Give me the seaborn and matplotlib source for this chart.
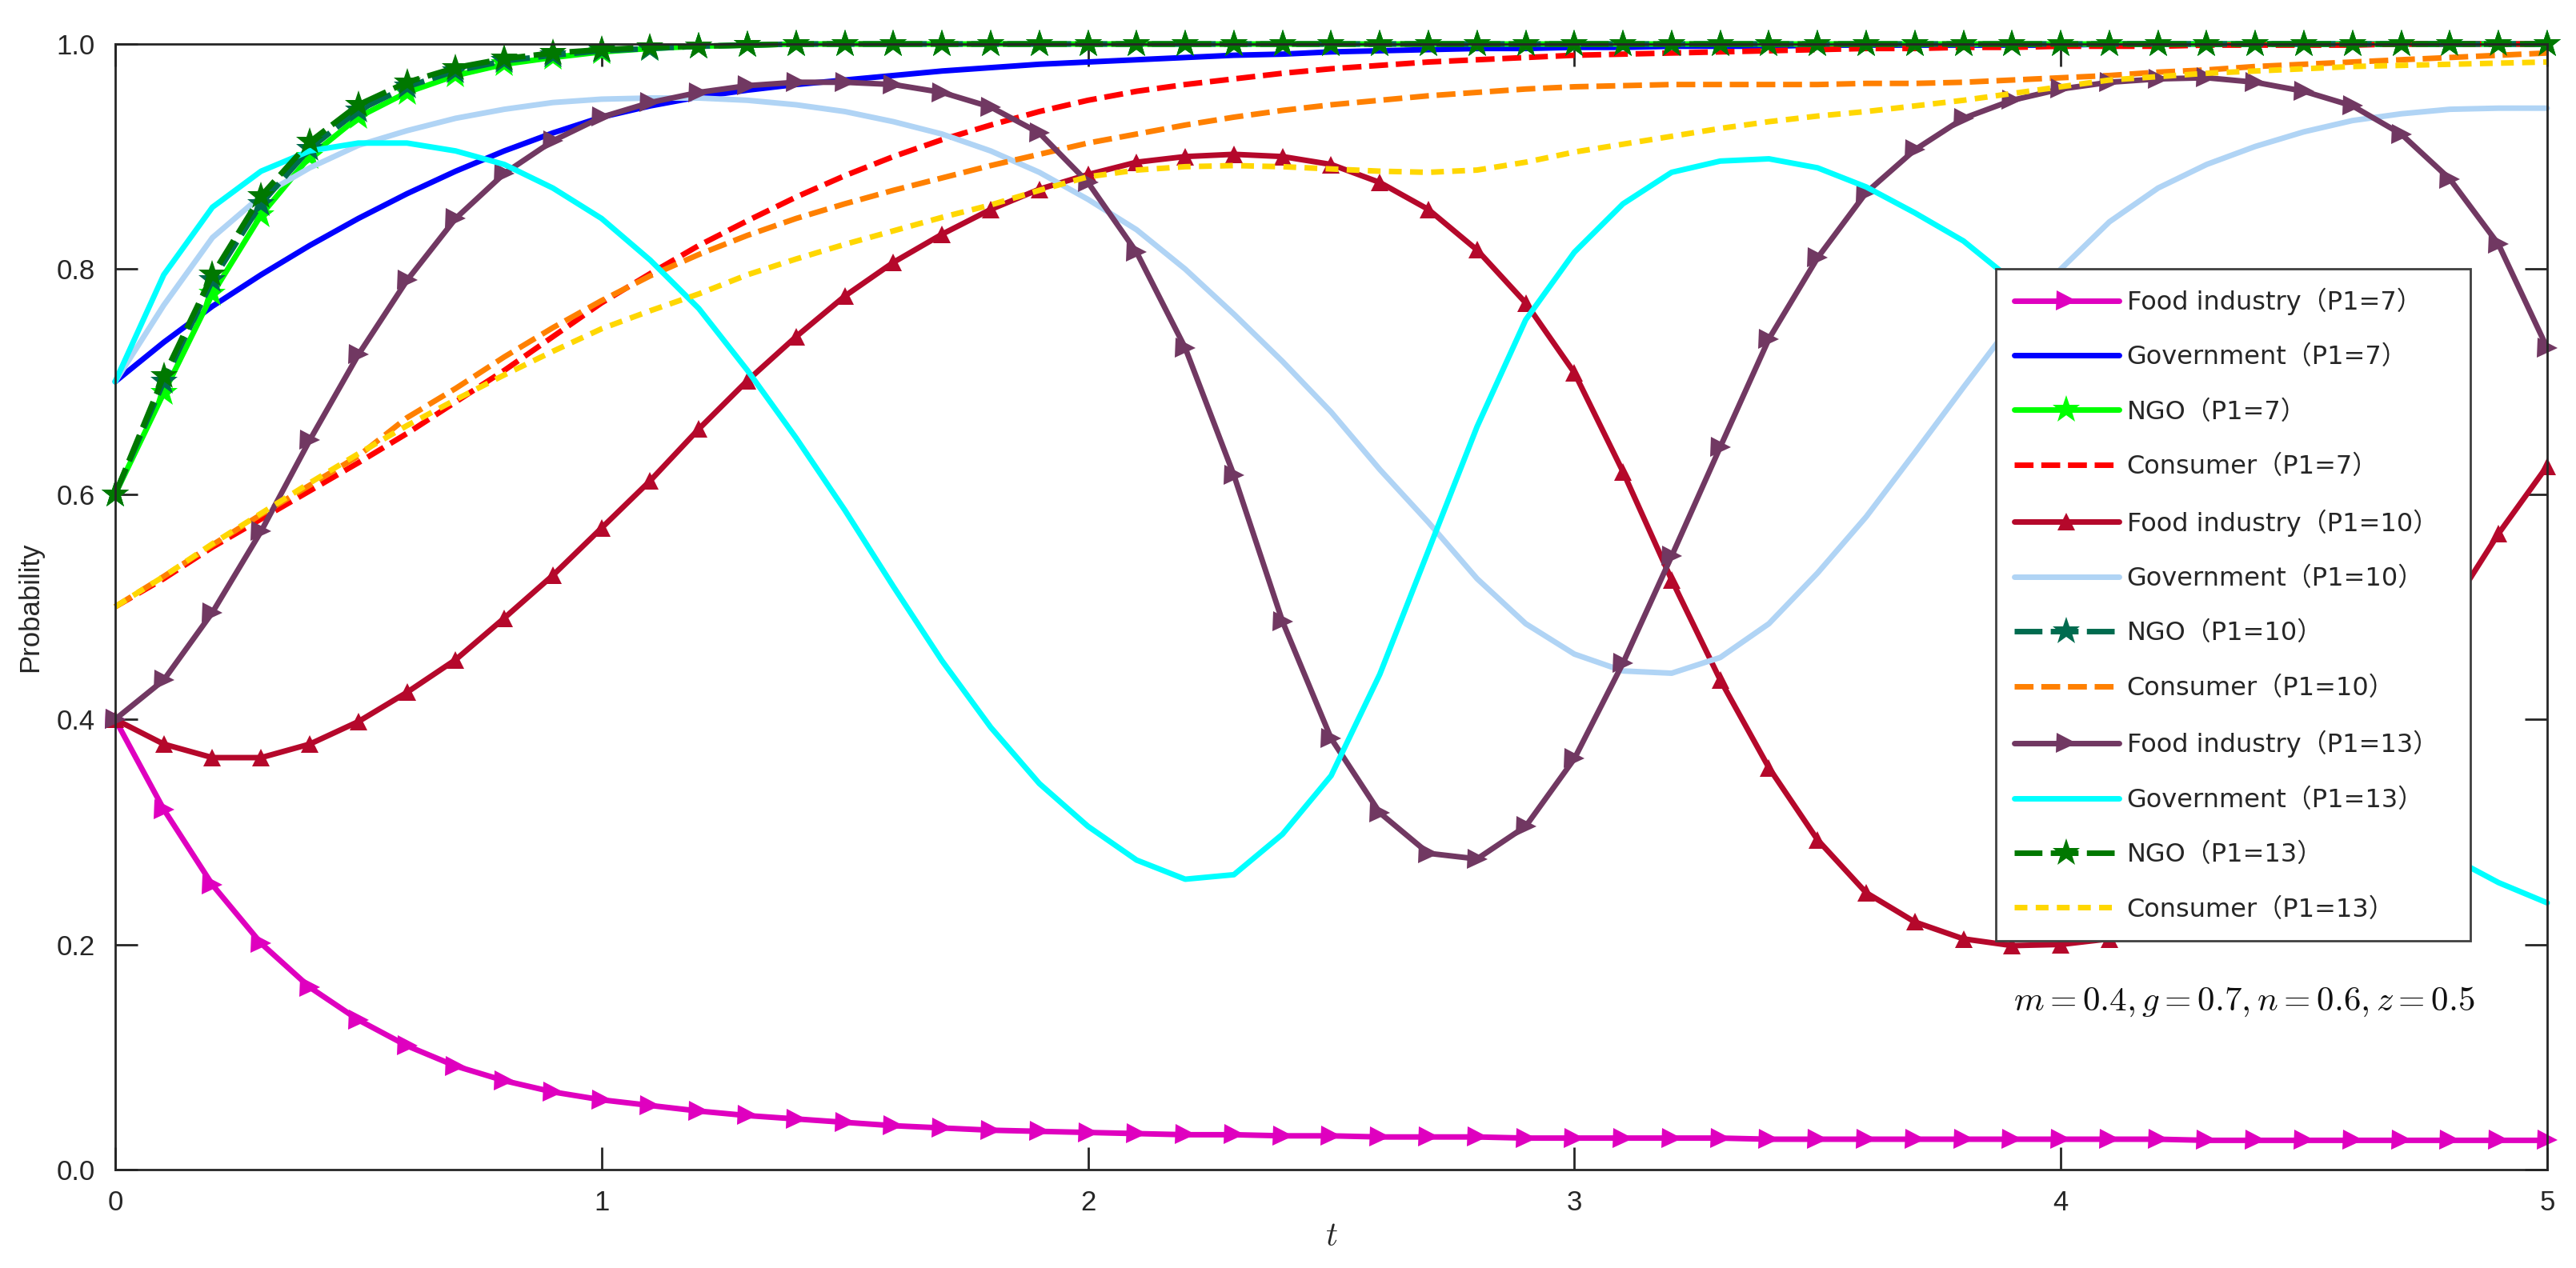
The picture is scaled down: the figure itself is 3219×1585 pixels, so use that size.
import numpy as np
import pandas as pd
import matplotlib
matplotlib.use('Agg')
import matplotlib.pyplot as plt
import seaborn as sns

# 时间采样点
t = [0.0, 0.1, 0.2, 0.3, 0.4, 0.5, 0.6, 0.7, 0.8, 0.9,
     1.0, 1.1, 1.2, 1.3, 1.4, 1.5, 1.6, 1.7, 1.8, 1.9,
     2.0, 2.1, 2.2, 2.3, 2.4, 2.5, 2.6, 2.7, 2.8, 2.9,
     3.0, 3.1, 3.2, 3.3, 3.4, 3.5, 3.6, 3.7, 3.8, 3.9,
     4.0, 4.1, 4.2, 4.3, 4.4, 4.5, 4.6, 4.7, 4.8, 4.9, 5.0]

# P1 = 7
food_7 = [0.400, 0.320, 0.253, 0.201, 0.162, 0.133, 0.110, 0.092, 0.079, 0.069,
          0.062, 0.057, 0.052, 0.048, 0.045, 0.042, 0.039, 0.037, 0.035, 0.034,
          0.033, 0.032, 0.031, 0.031, 0.030, 0.030, 0.029, 0.029, 0.029, 0.028,
          0.028, 0.028, 0.028, 0.028, 0.027, 0.027, 0.027, 0.027, 0.027, 0.027,
          0.027, 0.027, 0.027, 0.026, 0.026, 0.026, 0.026, 0.026, 0.026, 0.026, 0.026]
gov_7 = [0.700, 0.735, 0.767, 0.795, 0.821, 0.845, 0.867, 0.887, 0.905, 0.921,
         0.935, 0.945, 0.953, 0.959, 0.964, 0.968, 0.972, 0.976, 0.979, 0.982,
         0.984, 0.986, 0.988, 0.990, 0.991, 0.993, 0.994, 0.995, 0.996, 0.996,
         0.997, 0.997, 0.998, 0.998, 0.998, 0.999, 0.999, 0.999, 0.999, 0.999,
         0.999, 1.0, 1.0, 1.0, 1.0, 1.0, 1.0, 1.0, 1.0, 1.0, 1.0]
ngo_7 = [0.600, 0.690, 0.778, 0.848, 0.900, 0.935, 0.957, 0.972, 0.982, 0.988,
         0.993, 0.996, 0.998, 0.999, 1.0, 1.0, 1.0, 1.0, 1.0, 1.0,
         1.0, 1.0, 1.0, 1.0, 1.0, 1.0, 1.0, 1.0, 1.0, 1.0,
         1.0, 1.0, 1.0, 1.0, 1.0, 1.0, 1.0, 1.0, 1.0, 1.0,
         1.0, 1.0, 1.0, 1.0, 1.0, 1.0, 1.0, 1.0, 1.0, 1.0, 1.0]
cons_7 = [0.500, 0.525, 0.553, 0.578, 0.603, 0.628, 0.654, 0.682, 0.710, 0.740,
          0.770, 0.796, 0.821, 0.843, 0.864, 0.883, 0.900, 0.915, 0.928, 0.940,
          0.950, 0.958, 0.964, 0.969, 0.974, 0.978, 0.981, 0.984, 0.986, 0.988,
          0.990, 0.991, 0.992, 0.993, 0.994, 0.995, 0.996, 0.996, 0.997, 0.997,
          0.998, 0.998, 0.998, 0.999, 0.999, 0.999, 0.999, 1.0, 1.0, 1.0, 1.0]

# P1 = 10
food_10 = [0.400, 0.378, 0.366, 0.366, 0.378, 0.398, 0.424, 0.453, 0.490, 0.528,
           0.570, 0.612, 0.658, 0.701, 0.740, 0.776, 0.806, 0.831, 0.853, 0.871,
           0.884, 0.895, 0.900, 0.902, 0.900, 0.893, 0.877, 0.853, 0.817, 0.770,
           0.708, 0.620, 0.524, 0.435, 0.357, 0.293, 0.246, 0.220, 0.205, 0.199,
           0.200, 0.205, 0.218, 0.240, 0.272, 0.315, 0.368, 0.430, 0.497, 0.565, 0.625]
gov_10 = [0.700, 0.768, 0.828, 0.865, 0.890, 0.910, 0.923, 0.934, 0.942, 0.948,
          0.951, 0.952, 0.952, 0.950, 0.946, 0.940, 0.931, 0.920, 0.905, 0.886,
          0.862, 0.835, 0.800, 0.760, 0.718, 0.673, 0.622, 0.575, 0.525, 0.485,
          0.458, 0.443, 0.441, 0.455, 0.485, 0.530, 0.580, 0.637, 0.695, 0.752,
          0.800, 0.842, 0.872, 0.893, 0.909, 0.922, 0.932, 0.938, 0.942, 0.943, 0.943]
ngo_10 = [0.600, 0.700, 0.790, 0.858, 0.907, 0.941, 0.962, 0.976, 0.985, 0.990,
          0.994, 0.996, 0.998, 0.999, 1.0, 1.0, 1.0, 1.0, 1.0, 1.0,
          1.0, 1.0, 1.0, 1.0, 1.0, 1.0, 1.0, 1.0, 1.0, 1.0,
          1.0, 1.0, 1.0, 1.0, 1.0, 1.0, 1.0, 1.0, 1.0, 1.0,
          1.0, 1.0, 1.0, 1.0, 1.0, 1.0, 1.0, 1.0, 1.0, 1.0, 1.0]
cons_10 = [0.500, 0.527, 0.555, 0.582, 0.608, 0.634, 0.668, 0.694, 0.722, 0.748,
           0.772, 0.794, 0.813, 0.830, 0.845, 0.858, 0.870, 0.881, 0.892, 0.902,
           0.912, 0.920, 0.928, 0.935, 0.941, 0.946, 0.950, 0.954, 0.957, 0.960,
           0.962, 0.963, 0.964, 0.964, 0.964, 0.964, 0.965, 0.965, 0.966, 0.968,
           0.970, 0.972, 0.975, 0.977, 0.980, 0.982, 0.984, 0.986, 0.988, 0.990, 0.992]

# P1 = 13
food_13 = [0.400, 0.435, 0.495, 0.567, 0.648, 0.724, 0.790, 0.845, 0.885, 0.914,
           0.935, 0.948, 0.957, 0.963, 0.966, 0.966, 0.964, 0.957, 0.944, 0.921,
           0.877, 0.815, 0.730, 0.617, 0.487, 0.383, 0.317, 0.281, 0.276, 0.305,
           0.365, 0.450, 0.545, 0.642, 0.738, 0.810, 0.868, 0.906, 0.934, 0.950,
           0.960, 0.966, 0.969, 0.970, 0.966, 0.958, 0.945, 0.920, 0.880, 0.822, 0.730]
gov_13 = [0.700, 0.795, 0.855, 0.887, 0.905, 0.912, 0.912, 0.905, 0.893, 0.872,
          0.845, 0.808, 0.765, 0.710, 0.650, 0.586, 0.518, 0.452, 0.393, 0.343,
          0.305, 0.275, 0.258, 0.262, 0.298, 0.350, 0.440, 0.550, 0.660, 0.755,
          0.815, 0.858, 0.886, 0.896, 0.898, 0.890, 0.873, 0.850, 0.825, 0.790,
          0.740, 0.675, 0.600, 0.525, 0.455, 0.395, 0.345, 0.305, 0.278, 0.255, 0.237]
ngo_13 = [0.600, 0.705, 0.795, 0.865, 0.913, 0.946, 0.966, 0.979, 0.987, 0.992,
          0.995, 0.997, 0.998, 0.999, 1.0, 1.0, 1.0, 1.0, 1.0, 1.0,
          1.0, 1.0, 1.0, 1.0, 1.0, 1.0, 1.0, 1.0, 1.0, 1.0,
          1.0, 1.0, 1.0, 1.0, 1.0, 1.0, 1.0, 1.0, 1.0, 1.0,
          1.0, 1.0, 1.0, 1.0, 1.0, 1.0, 1.0, 1.0, 1.0, 1.0, 1.0]
cons_13 = [0.500, 0.527, 0.556, 0.583, 0.610, 0.636, 0.661, 0.684, 0.706, 0.727,
           0.747, 0.763, 0.778, 0.795, 0.809, 0.822, 0.834, 0.846, 0.857, 0.870,
           0.882, 0.888, 0.891, 0.892, 0.891, 0.889, 0.887, 0.886, 0.888, 0.895,
           0.904, 0.911, 0.918, 0.925, 0.931, 0.936, 0.940, 0.945, 0.950, 0.956,
           0.962, 0.968, 0.971, 0.974, 0.976, 0.978, 0.980, 0.981, 0.982, 0.983, 0.984]

labels = ['Food industry（P1=7）', 'Government（P1=7）', 'NGO（P1=7）', 'Consumer（P1=7）',
          'Food industry（P1=10）', 'Government（P1=10）', 'NGO（P1=10）', 'Consumer（P1=10）',
          'Food industry（P1=13）', 'Government（P1=13）', 'NGO（P1=13）', 'Consumer（P1=13）']
series = [food_7, gov_7, ngo_7, cons_7,
          food_10, gov_10, ngo_10, cons_10,
          food_13, gov_13, ngo_13, cons_13]

# 线型样式
LONG_DASH = (3.4, 1.4)
SHORT_DASH = (2.3, 1.5)
NGO_DASH = (5.0, 1.5)
styles = [
    dict(color='#DF00BF', ls='-', marker='>', ms=9),
    dict(color='#0000FF', ls='-', marker=None, ms=0),
    dict(color='#00FF00', ls='-', marker='*', ms=13),
    dict(color='#FF0000', ls=(0, LONG_DASH), marker=None, ms=0),
    dict(color='#B5082B', ls='-', marker='^', ms=8),
    dict(color='#B0D4F5', ls='-', marker=None, ms=0),
    dict(color='#006B4F', ls=(0, NGO_DASH), marker='*', ms=13),
    dict(color='#FF8000', ls=(0, LONG_DASH), marker=None, ms=0),
    dict(color='#713862', ls='-', marker='>', ms=9),
    dict(color='#00FFFF', ls='-', marker=None, ms=0),
    dict(color='#007800', ls=(0, NGO_DASH), marker='*', ms=13),
    dict(color='#FFD700', ls=(0, SHORT_DASH), marker=None, ms=0),
]

sns.set_theme(style='ticks')
plt.rcParams['font.family'] = ['Liberation Sans', 'Noto Sans CJK SC']
plt.rcParams['mathtext.fontset'] = 'cm'

fig = plt.figure(figsize=(16.095, 7.925), dpi=200)
ax = fig.add_axes([0.0447, 0.0776, 0.9441, 0.8877])

for lab, vals, st in zip(labels, series, styles):
    df = pd.DataFrame({'t': t, 'p': vals})
    kw = dict(color=st['color'], linestyle=st['ls'], linewidth=2.5, label=lab, clip_on=False)
    if st['marker']:
        kw.update(marker=st['marker'], markersize=st['ms'], markeredgewidth=0,
                  markerfacecolor=st['color'])
    sns.lineplot(data=df, x='t', y='p', ax=ax, **kw)

ax.set_xlim(0, 5)
ax.set_ylim(0, 1)
ax.set_xticks([0, 1, 2, 3, 4, 5])
ax.set_yticks([0.0, 0.2, 0.4, 0.6, 0.8, 1.0])
ax.set_yticklabels(['0.0', '0.2', '0.4', '0.6', '0.8', '1.0'])
ax.tick_params(direction='in', length=10, width=1, colors='#262626',
               labelsize=12.5, top=True, right=True, pad=9)
for sp in ax.spines.values():
    sp.set_color('#262626')
    sp.set_linewidth(1.0)

ax.set_xlabel(r'$t$', fontsize=15, color='#262626', labelpad=2)
ax.set_ylabel('Probability', fontsize=12.5, color='#262626', labelpad=6)

ax.text(4.377, 0.149, r'$m=0.4,g=0.7,n=0.6,z=0.5$', ha='center', va='center',
        fontsize=15.5, color='#111111')

leg = ax.legend(loc='upper left', bbox_to_anchor=(0.7733, 0.206, 0.195, 0.594),
                mode='expand', frameon=True, fancybox=False, edgecolor='#404040',
                framealpha=1, prop={'family': ['DejaVu Sans', 'Noto Sans CJK SC'], 'size': 11.5},
                handlelength=4.1, labelspacing=1.17, borderpad=0.72,
                handletextpad=0.3, borderaxespad=0)
leg.get_frame().set_linewidth(1.0)

fig.savefig('out.png', dpi=200)
